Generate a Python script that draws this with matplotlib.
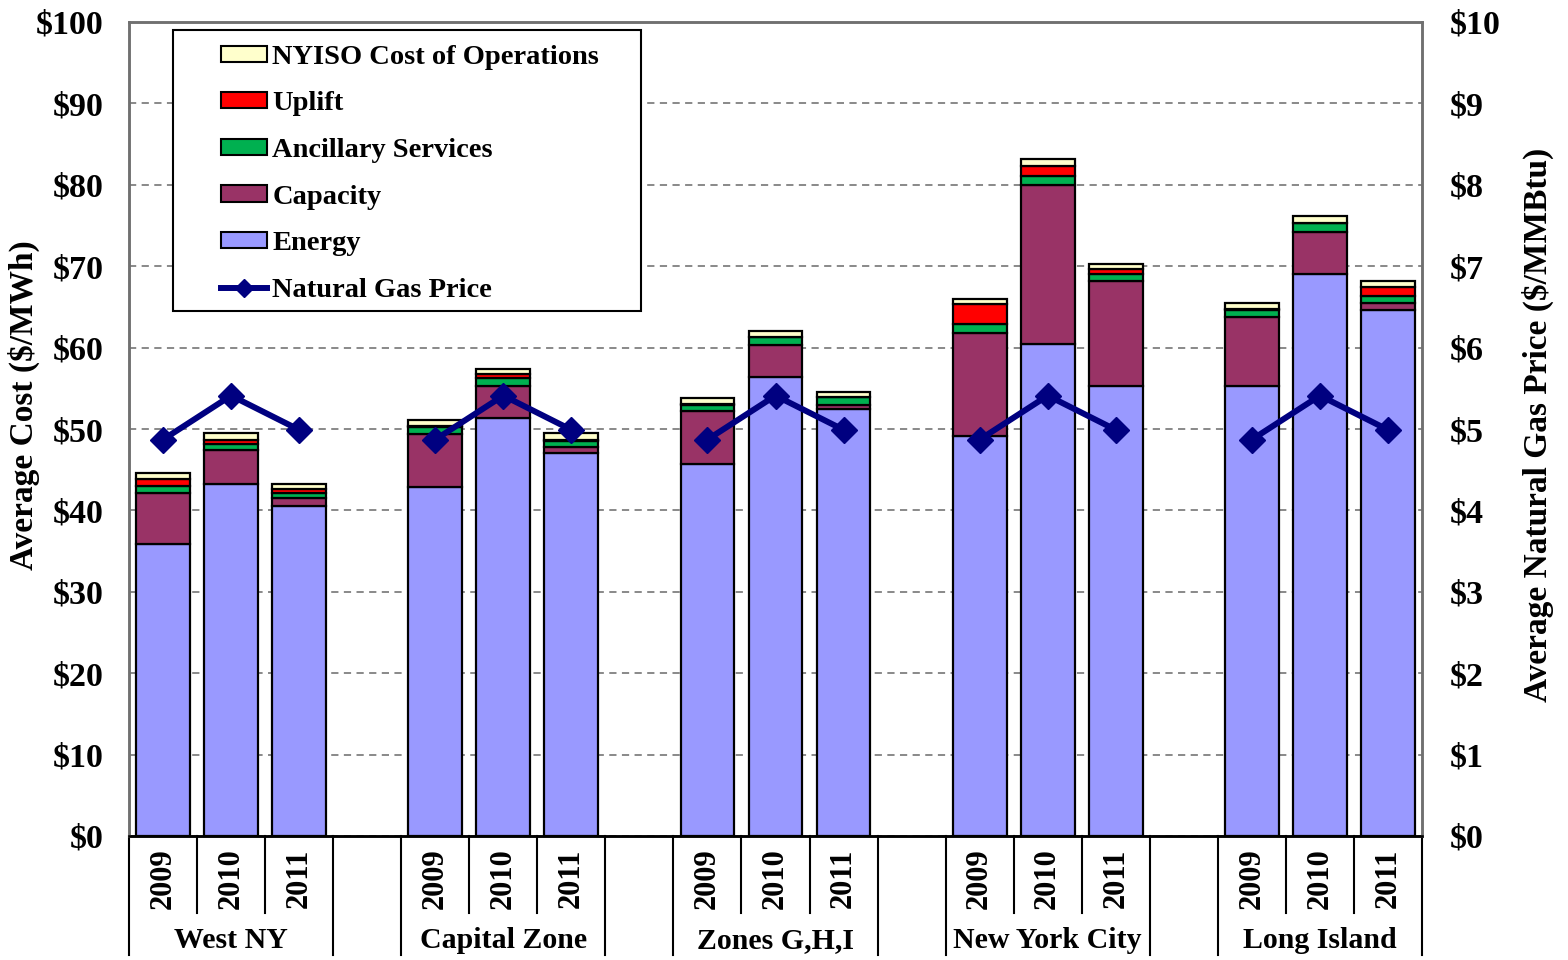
import numpy as np
import matplotlib.pyplot as plt
from matplotlib.patches import Patch, Rectangle
from matplotlib.lines import Line2D
from matplotlib.transforms import blended_transform_factory

plt.rcParams['font.family'] = ['Liberation Serif', 'DejaVu Serif']
plt.rcParams['font.weight'] = 'bold'

zones = ['West NY', 'Capital Zone', 'Zones G,H,I', 'New York City', 'Long Island']
years = ['2009', '2010', '2011']

# $/MWh, per zone, 2009-2011
energy = [[35.9, 43.2, 40.6], [42.9, 51.35, 47.0], [45.7, 56.4, 52.5],
          [49.2, 60.4, 55.3], [55.3, 69.0, 64.6]]
capacity = [[6.2, 4.2, 0.9], [6.5, 3.95, 0.8], [6.5, 3.9, 0.5],
            [12.6, 19.6, 12.9], [8.5, 5.2, 0.9]]
ancillary = [[0.9, 0.8, 0.6], [0.8, 1.0, 0.7], [0.8, 1.0, 0.9],
             [1.1, 1.1, 0.8], [0.8, 1.1, 0.85]]
uplift = [[0.9, 0.5, 0.5], [0.2, 0.45, 0.1], [0.1, 0.05, 0.05],
          [2.4, 1.2, 0.6], [0.1, 0.05, 1.15]]
nyiso_ops = [[0.7, 0.8, 0.6], [0.7, 0.65, 0.9], [0.65, 0.75, 0.65],
             [0.65, 0.9, 0.7], [0.8, 0.8, 0.7]]
# $/MMBtu
gas_price = [4.87, 5.41, 4.99]

series = [
    ('Energy', energy, '#9999FF'),
    ('Capacity', capacity, '#993366'),
    ('Ancillary Services', ancillary, '#00B050'),
    ('Uplift', uplift, '#FF0000'),
    ('NYISO Cost of Operations', nyiso_ops, '#FFFFCC'),
]

fig = plt.figure(figsize=(15.68, 9.6), dpi=100)
ax = fig.add_axes([129 / 1568, 124 / 960, 1293 / 1568, 814 / 960])
ax2 = ax.twinx()

n_years = len(years)
slot = n_years + 1
width = 0.79

bottoms = np.zeros((len(zones), n_years))
for name, vals, color in series:
    vals = np.array(vals)
    for g in range(len(zones)):
        x = g * slot + np.arange(n_years)
        ax.bar(x, vals[g], width, bottom=bottoms[g], color=color,
               edgecolor='black', linewidth=1.6, zorder=3)
    bottoms += vals

for g in range(len(zones)):
    x = g * slot + np.arange(n_years)
    ax2.plot(x, gas_price, color='#000080', linewidth=4.3, marker='D',
             markersize=13, zorder=5)

ax.set_xlim(-0.5, len(zones) * slot - 1.5)
ax.set_ylim(0, 100)
ax2.set_ylim(0, 10)
ax.set_yticks(np.arange(0, 101, 10))
ax.set_yticklabels([f'${v}' for v in range(0, 101, 10)])
ax2.set_yticks(np.arange(0, 11, 1))
ax2.set_yticklabels([f'${v}' for v in range(0, 11)])
ax.yaxis.grid(True, linestyle=(0, (4, 3)), color='#808080', linewidth=1.3, zorder=0)
ax.set_axisbelow(True)
ax.set_xticks([])
ax.tick_params(axis='y', length=0, labelsize=24.5, pad=18.5)
ax2.tick_params(axis='y', length=0, labelsize=24.5, pad=20)

for a in (ax, ax2):
    for side in ('left', 'right', 'top'):
        a.spines[side].set_color('#707070')
        a.spines[side].set_linewidth(1.8)
    a.spines['bottom'].set_color('black')
    a.spines['bottom'].set_linewidth(1.8)

ax.set_ylabel('Average Cost ($/MWh)', fontsize=24, fontweight='bold')
ax.yaxis.set_label_coords(-0.0688, 0.529)
ax2.set_ylabel('Average Natural Gas Price ($/MMBtu)', fontsize=24,
               fontweight='bold', rotation=90)
ax2.yaxis.set_label_coords(1.0773, 0.505)

# category table under the axis
trans = blended_transform_factory(ax.transData, ax.transAxes)
for g, zone in enumerate(zones):
    x0 = g * slot
    for i, yr in enumerate(years):
        ax.text(x0 + i, -0.052, yr, rotation=90, ha='center', va='center',
                fontsize=22, transform=trans)
        if i > 0:
            ax.plot([x0 + i - 0.5] * 2, [0, -0.094], color='black', lw=1.5,
                    transform=trans, clip_on=False)
    for edge in (x0 - 0.5, x0 + n_years - 0.5):
        ax.plot([edge] * 2, [0, -0.146], color='black', lw=1.5,
                transform=trans, clip_on=False)
    ax.text(x0 + 1, -0.128, zone, ha='center', va='center', fontsize=21.5,
            transform=trans)

# legend box drawn separately for its wide padding
box = Rectangle((0.034, 0.645), 0.362, 0.345, transform=ax2.transAxes,
                facecolor='white', edgecolor='black', linewidth=1.5, zorder=9)
ax2.add_patch(box)

handles = [Patch(facecolor=c, edgecolor='black', linewidth=1.5, label=n)
           for n, _, c in reversed(series)]
handles.append(Line2D([], [], color='#000080', linewidth=4.3, marker='D',
                      markersize=9, label='Natural Gas Price'))
leg = ax2.legend(handles=handles, loc='upper left', bbox_to_anchor=(0.0712, 0.972),
                 borderaxespad=0, borderpad=0, fontsize=20.5, frameon=False,
                 handlelength=1.6, handleheight=0.5, labelspacing=0.76,
                 handletextpad=0.2)
leg.set_zorder(10)

fig.savefig('out.png', dpi=100)
